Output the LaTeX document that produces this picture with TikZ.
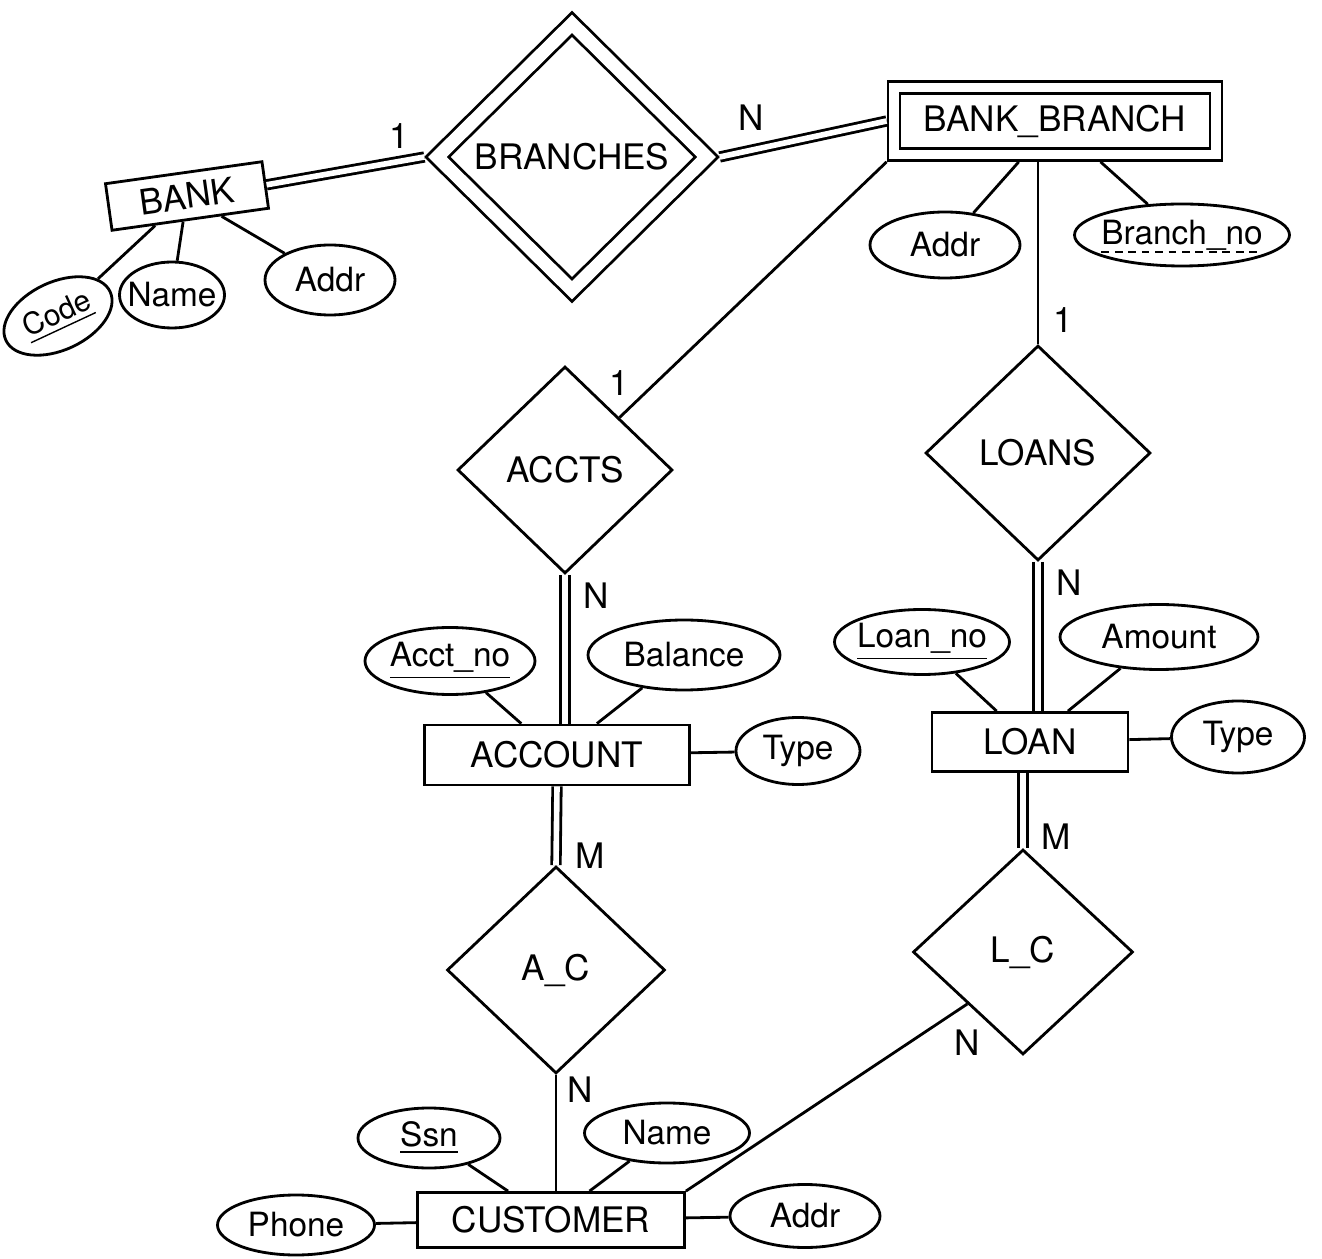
\documentclass[tikz,border=0pt]{standalone}
\usepackage{fontspec}
\setmainfont{TeX Gyre Heros}
\usetikzlibrary{positioning,shapes.geometric}
\newcommand\dashunder[1]{\setbox0\hbox{#1}\dimen0=\wd0
  \rlap{\raisebox{-2.6pt}[0pt][0pt]{\hbox to\dimen0{\xleaders\hbox{\vrule height0.6pt depth0pt width2.2pt\hskip1.6pt}\hfill}}}\box0}

\begin{document}
\begin{tikzpicture}[
    line width=0.8pt, line join=miter,
    entity/.style={rectangle, draw, minimum height=0.6cm, inner sep=2pt,
      font=\fontsize{10}{12}\selectfont},
    weakentity/.style={entity, double, double distance=2.6pt, outer sep=2.1pt},
    rel/.style={diamond, draw, inner sep=0pt, minimum width=2.18cm, minimum height=2.07cm,
      font=\fontsize{10}{12}\selectfont},
    weakrel/.style={rel, double, double distance=3.7pt, outer sep=2.6pt},
    attr/.style={ellipse, draw, inner xsep=-2mm, inner ysep=0pt, minimum height=0.65cm,
      font=\fontsize{9.5}{11}\selectfont},
    total/.style={double, double distance=1.6pt},
    card/.style={font=\fontsize{10}{12}\selectfont, inner sep=1pt}
  ]
  \useasboundingbox (0,0) rectangle (13.22,12.58);

  % entities and relationships
  \node[entity, rotate=8, minimum width=1.58cm, minimum height=0.47cm] (bank) at (1.87,10.62) {BANK};
  \node[weakrel, minimum width=2.77cm, minimum height=2.74cm] (branches) at (5.72,11.01) {BRANCHES};
  \node[weakentity, minimum width=3.22cm, minimum height=0.67cm] (bankbranch) at (10.55,11.37) {BANK\_BRANCH};
  \node[rel, minimum width=2.15cm] (accts) at (5.65,7.88) {ACCTS};
  \node[rel, minimum width=2.25cm, minimum height=2.15cm] (loans) at (10.38,8.05) {LOANS};
  \node[entity, minimum width=2.65cm] (account) at (5.57,5.03) {ACCOUNT};
  \node[entity, minimum width=1.96cm, minimum height=0.59cm] (loan) at (10.30,5.16) {LOAN};
  \node[rel] (ac) at (5.56,2.88) {A\_C};
  \node[rel, minimum width=2.2cm, minimum height=2.05cm] (lc) at (10.23,3.06) {L\_C};
  \node[entity, minimum width=2.67cm, minimum height=0.55cm] (customer) at (5.51,0.38) {CUSTOMER};

  % attributes
  \node[attr, rotate=25, minimum width=1.15cm, minimum height=0.68cm,
    font=\fontsize{8.5}{10}\selectfont] (code) at (0.58,9.42) {\underline{Code}};
  \node[attr, minimum width=1.05cm, minimum height=0.66cm] (bankname) at (1.72,9.63) {Name};
  \node[attr, minimum width=1.3cm, minimum height=0.7cm] (bankaddr) at (3.30,9.78) {Addr};
  \node[attr, minimum width=1.5cm, minimum height=0.66cm] (bbaddr) at (9.45,10.13) {Addr};
  \node[attr, minimum width=2.15cm, minimum height=0.62cm] (branchno) at (11.82,10.23) {\dashunder{Branch\_no}};
  \node[attr, minimum width=1.7cm, minimum height=0.67cm] (acctno) at (4.50,5.97) {\underline{Acct\_no}};
  \node[attr, minimum width=1.92cm, minimum height=0.7cm] (balance) at (6.84,6.03) {Balance};
  \node[attr, minimum width=1.24cm, minimum height=0.67cm] (accttype) at (7.98,5.07) {Type};
  \node[attr, minimum width=1.75cm] (loanno) at (9.22,6.16) {\underline{Loan\_no}};
  \node[attr, minimum width=1.98cm] (amount) at (11.59,6.21) {Amount};
  \node[attr, minimum width=1.33cm, minimum height=0.72cm] (loantype) at (12.38,5.21) {Type};
  \node[attr, minimum width=1.42cm, minimum height=0.6cm] (ssn) at (4.29,1.20) {\underline{Ssn}};
  \node[attr, minimum width=1.65cm, minimum height=0.6cm] (custname) at (6.67,1.25) {Name};
  \node[attr, minimum width=1.57cm, minimum height=0.6cm] (phone) at (2.96,0.33) {Phone};
  \node[attr, minimum width=1.5cm, minimum height=0.63cm] (custaddr) at (8.05,0.42) {Addr};

  % relationship links
  \draw[total] (bank.east) -- (branches.west) node[card, pos=1, above left=1pt and 3pt] {1};
  \draw[total] (branches.east) -- (bankbranch.west) node[card, pos=0, above right=6pt and 4pt] {N};
  \draw (bankbranch.south west) -- (accts.north east) node[card, pos=1, above=5pt] {1};
  \draw (loans.north |- bankbranch.south) -- (loans.north) node[card, pos=1, above right=2pt and 3pt] {1};
  \draw[total] (accts.south) -- (accts.south |- account.north) node[card, pos=0, below right=1pt and 4pt] {N};
  \draw[total] (account.south) -- (ac.north) node[card, pos=0.88, right=4pt] {M};
  \draw (ac.south) -- (ac.south |- customer.north) node[card, pos=0.13, right=2pt] {N};
  \draw[total] (loans.south) -- (loans.south |- loan.north) node[card, pos=0, below right=1pt and 4pt] {N};
  \draw[total] (lc.north |- loan.south) -- (lc.north) node[card, pos=0.85, right=4pt] {M};
  \draw (customer.north east) -- (lc.south west) node[card, pos=1, below=6pt] {N};

  % attribute links
  \draw (bank) -- (code);
  \draw (bank) -- (bankname);
  \draw (bank) -- (bankaddr);
  \draw (bankbranch) -- (bbaddr);
  \draw (bankbranch) -- (branchno);
  \draw (acctno) -- (account);
  \draw (balance) -- (account);
  \draw (account) -- (accttype);
  \draw (loanno) -- (loan);
  \draw (amount) -- (loan);
  \draw (loan) -- (loantype);
  \draw (ssn) -- (customer);
  \draw (custname) -- (customer);
  \draw (phone) -- (customer);
  \draw (customer) -- (custaddr);
\end{tikzpicture}
\end{document}
